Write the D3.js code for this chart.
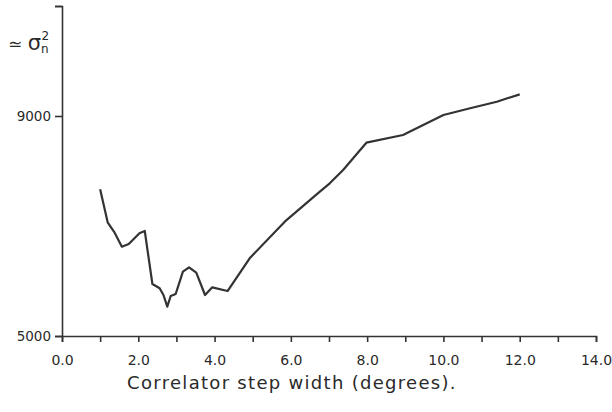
<!DOCTYPE html>
<html>
<head>
<meta charset="utf-8">
<script src="https://cdn.jsdelivr.net/npm/d3@7"></script>
<style>
  body { margin: 0; background: #fff; }
  text, tspan { font-family: 'DejaVu Sans', sans-serif; fill: #2a2a2a; }
</style>
</head>
<body>
<div id="chart-area"></div>
<script>
// step width (degrees) vs approx sigma_n^2
var stepWidth = [1.0, 1.2, 1.38, 1.57, 1.75, 2.03, 2.17, 2.37, 2.56, 2.66, 2.76, 2.85, 2.98, 3.17, 3.33, 3.52, 3.75, 3.94, 4.34, 4.92, 5.84, 6.76, 7.02, 7.37, 7.98, 8.94, 10.0, 10.7, 11.4, 12.0]
var sigma = [7667, 7060, 6878, 6624, 6673, 6867, 6909, 5945, 5867, 5745, 5533, 5727, 5764, 6170, 6249, 6151, 5745, 5885, 5818, 6413, 7078, 7624, 7776, 8018, 8515, 8655, 9018, 9140, 9260, 9394]
var xTicks = [0, 1, 2, 3, 4, 5, 6, 7, 8, 9, 10, 11, 12, 13, 14]
var yTicks = [5000, 9000, 11000]
var yLabelled = [5000, 9000]

var data = stepWidth.map((d, i) => ({ x: d, y: sigma[i] }))

var W = 612, H = 412
var margin = { top: 6, left: 62, bottom: 76, right: 16 }
var width = W - margin.left - margin.right
var height = H - margin.top - margin.bottom

var svg = d3.select('#chart-area').append('svg')
    .attr('width', W)
    .attr('height', H)

var g = svg.append('g').attr('transform', `translate(${ margin.left }, ${ margin.top })`)

var x = d3.scaleLinear().domain([0, 14]).range([0, width])
var y = d3.scaleLinear().domain([5000, 11000]).range([height, 0])

var xAxis = d3.axisBottom(x)
    .tickValues(xTicks)
    .tickSize(6)
    .tickPadding(13)
    .tickFormat(d => d % 2 === 0 ? d3.format('.1f')(d) : '')

var yAxis = d3.axisLeft(y)
    .tickValues(yTicks)
    .tickSize(7)
    .tickPadding(4)
    .tickFormat(d => yLabelled.includes(d) ? d : '')

var xg = g.append('g').attr('transform', `translate(0, ${height})`).call(xAxis)
var yg = g.append('g').call(yAxis)

;[xg, yg].forEach(a => {
	a.select('.domain').attr('stroke', '#333').attr('stroke-width', 1.6)
	a.selectAll('.tick line').attr('stroke', '#333').attr('stroke-width', 1.6)
	a.selectAll('.tick text')
		.attr('font-size', '14px')
		.attr('font-family', 'DejaVu Sans, sans-serif')
		.attr('fill', '#2a2a2a')
})
yg.selectAll('.tick text').attr('font-size', '13.5px')

var line = d3.line().x(d => x(d.x)).y(d => y(d.y))

g.append('path')
	.datum(data)
	.attr('fill', 'none')
	.attr('stroke', '#333')
	.attr('stroke-width', 2.2)
	.attr('stroke-linejoin', 'round')
	.attr('d', line)

// axis titles
svg.append('text')
	.attr('x', 292)
	.attr('y', 389)
	.attr('text-anchor', 'middle')
	.attr('font-size', '18px')
	.attr('letter-spacing', '1.3px')
	.text('Correlator step width (degrees).')

var yTitle = svg.append('text')
	.attr('x', 8)
	.attr('y', 50)
	.attr('font-size', '17px')
yTitle.append('tspan').text('≃ ')
yTitle.append('tspan').attr('font-size', '21px').text('σ')
yTitle.append('tspan').attr('font-size', '12px').attr('dy', 3).text('n')
yTitle.append('tspan').attr('font-size', '12px').attr('dx', -7).attr('dy', -13).text('2')
</script>
</body>
</html>
